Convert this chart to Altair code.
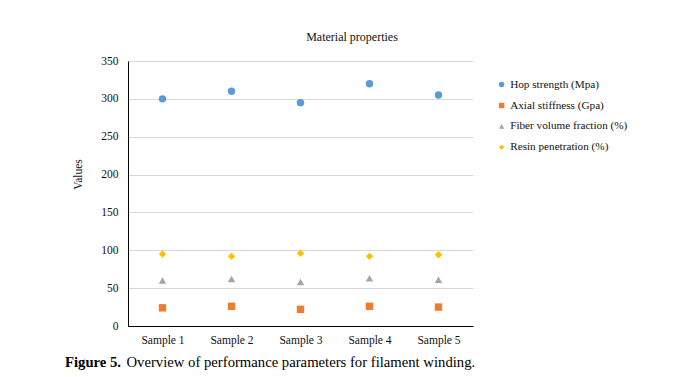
import altair as alt
import pandas as pd

# Series measured for each sample
samples = ["Sample 1", "Sample 2", "Sample 3", "Sample 4", "Sample 5"]
series_names = [
    "Hop strength (Mpa)",
    "Axial stiffness (Gpa)",
    "Fiber volume fraction (%)",
    "Resin penetration (%)",
]
hop_strength = [300, 310, 295, 320, 305]
axial_stiffness = [24, 26, 22, 26, 25]
fiber_volume = [60, 62, 58, 63, 61]
resin_penetration = [95, 92, 96, 92, 94]

series_colors = ["#5B9BD5", "#ED7D31", "#A5A5A5", "#FFC000"]
series_shapes = ["circle", "square", "triangle-up", "diamond"]

chart_title = "Material properties"
caption_bold = "Figure 5."
caption_text = "Overview of performance parameters for filament winding."

FONT = "'Liberation Serif', 'Times New Roman', serif"
INK = "#111111"

rows = []
for name, values in zip(series_names,
                        [hop_strength, axial_stiffness, fiber_volume, resin_penetration]):
    for s, v in zip(samples, values):
        rows.append({"Sample": s, "Series": name, "Value": v})
df = pd.DataFrame(rows)

legend_style = dict(
    title=None, orient="none", legendX=368, legendY=18,
    labelFont=FONT, labelFontSize=11.2, labelColor=INK,
    symbolSize=30, symbolStrokeWidth=0, rowPadding=8.9, labelOffset=3,
    padding=0,
)

points = alt.Chart(df).mark_point(filled=True, size=55, opacity=1).encode(
    x=alt.X(
        "Sample:N",
        sort=samples,
        scale=alt.Scale(paddingInner=0, paddingOuter=0),
        axis=alt.Axis(
            title=None, labelAngle=0, ticks=False, tickSize=0, grid=False,
            domainColor="#000000", domainWidth=1, labelPadding=8,
            labelFont=FONT, labelFontSize=11.5, labelColor=INK,
        ),
    ),
    y=alt.Y(
        "Value:Q",
        scale=alt.Scale(domain=[0, 350], nice=False),
        axis=alt.Axis(
            values=list(range(0, 351, 50)), ticks=False, tickSize=0,
            grid=True, gridColor="#D9D9D9", gridWidth=1,
            domainColor="#000000", domainWidth=1, labelPadding=10,
            labelFont=FONT, labelFontSize=11.5, labelColor=INK,
            title="Values", titleFont=FONT, titleFontSize=11.5,
            titleFontWeight="normal", titleColor=INK,
            titleX=-45, titleY=113,
        ),
    ),
    color=alt.Color(
        "Series:N",
        sort=series_names,
        scale=alt.Scale(domain=series_names, range=series_colors),
        legend=alt.Legend(**legend_style),
    ),
    shape=alt.Shape(
        "Series:N",
        sort=series_names,
        scale=alt.Scale(domain=series_names, range=series_shapes),
        legend=alt.Legend(**legend_style),
    ),
)

title_layer = alt.Chart(pd.DataFrame({"t": [chart_title]})).mark_text(
    font=FONT, fontSize=12, color=INK, align="center", baseline="alphabetic"
).encode(text="t:N", x=alt.value(224), y=alt.value(-20))

caption_bold_layer = alt.Chart(pd.DataFrame({"t": [caption_bold]})).mark_text(
    font=FONT, fontSize=14.7, fontWeight="bold", color="#000000",
    align="left", baseline="alphabetic"
).encode(text="t:N", x=alt.value(-63), y=alt.value(306))

caption_layer = alt.Chart(pd.DataFrame({"t": [caption_text]})).mark_text(
    font=FONT, fontSize=14.7, color="#000000", align="left", baseline="alphabetic"
).encode(text="t:N", x=alt.value(-1.5), y=alt.value(306))

chart = alt.layer(points, title_layer, caption_bold_layer, caption_layer).properties(
    width=345,
    height=265,
    autosize=alt.AutoSizeParams(type="none"),
    padding={"left": 128, "top": 61, "right": 208, "bottom": 51},
    background="white",
).configure_view(stroke=None)

chart.save("out.html", embed_options={"renderer": "svg", "actions": False})
